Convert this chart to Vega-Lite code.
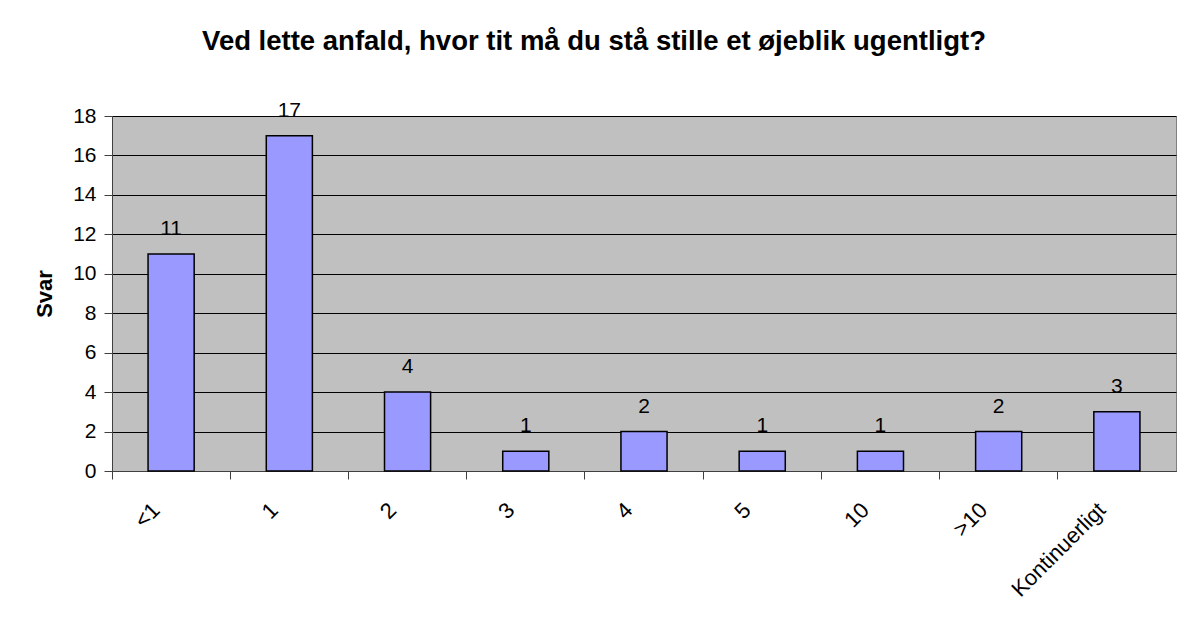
{
  "$schema": "https://vega.github.io/schema/vega-lite/v6.json",
  "width": 1064,
  "height": 355,
  "autosize": {"type": "none"},
  "padding": {"left": 112, "top": 116, "right": 12, "bottom": 153},
  "background": "white",
  "title": {
    "text": "Ved lette anfald, hvor tit må du stå stille et øjeblik ugentligt?",
    "font": "Liberation Sans",
    "fontSize": 27.5,
    "fontWeight": "bold",
    "color": "black",
    "anchor": "middle",
    "dx": -50,
    "offset": 44
  },
  "data": {
    "values": [
      {"kategori": "<1", "svar": 11},
      {"kategori": "1", "svar": 17},
      {"kategori": "2", "svar": 4},
      {"kategori": "3", "svar": 1},
      {"kategori": "4", "svar": 2},
      {"kategori": "5", "svar": 1},
      {"kategori": "10", "svar": 1},
      {"kategori": ">10", "svar": 2},
      {"kategori": "Kontinuerligt", "svar": 3}
    ]
  },
  "config": {
    "view": {"fill": "#C0C0C0", "stroke": "#808080", "strokeWidth": 1},
    "font": "Liberation Sans"
  },
  "encoding": {
    "x": {
      "field": "kategori",
      "type": "nominal",
      "sort": null,
      "scale": {"paddingInner": 0.61, "paddingOuter": 0.305},
      "axis": {
        "title": null,
        "labelAngle": -45,
        "labelFont": "Liberation Sans",
        "labelFontSize": 22,
        "labelColor": "black",
        "labelPadding": 20,
        "bandPosition": -0.782,
        "labelOffset": -22,
        "tickSize": 8,
        "tickColor": "#404040",
        "domainColor": "#404040",
        "grid": false
      }
    },
    "y": {
      "field": "svar",
      "type": "quantitative",
      "scale": {"domain": [0, 18], "nice": false},
      "axis": {
        "title": "Svar",
        "titleFont": "Liberation Sans",
        "titleFontSize": 22,
        "titleFontWeight": "bold",
        "titleColor": "black",
        "titlePadding": 16,
        "values": [0, 2, 4, 6, 8, 10, 12, 14, 16, 18],
        "labelFont": "Liberation Sans",
        "labelFontSize": 21,
        "labelColor": "black",
        "labelPadding": 8,
        "tickSize": 8,
        "tickColor": "#404040",
        "domainColor": "#404040",
        "gridColor": "black",
        "gridOpacity": 1,
        "gridWidth": 1
      }
    }
  },
  "layer": [
    {
      "mark": {"type": "bar", "fill": "#9999FF", "stroke": "black", "strokeWidth": 1.5}
    },
    {
      "mark": {"type": "text", "baseline": "bottom", "dy": -15, "fontSize": 21, "font": "Liberation Sans", "color": "black"},
      "encoding": {"text": {"field": "svar", "type": "quantitative"}}
    }
  ]
}
